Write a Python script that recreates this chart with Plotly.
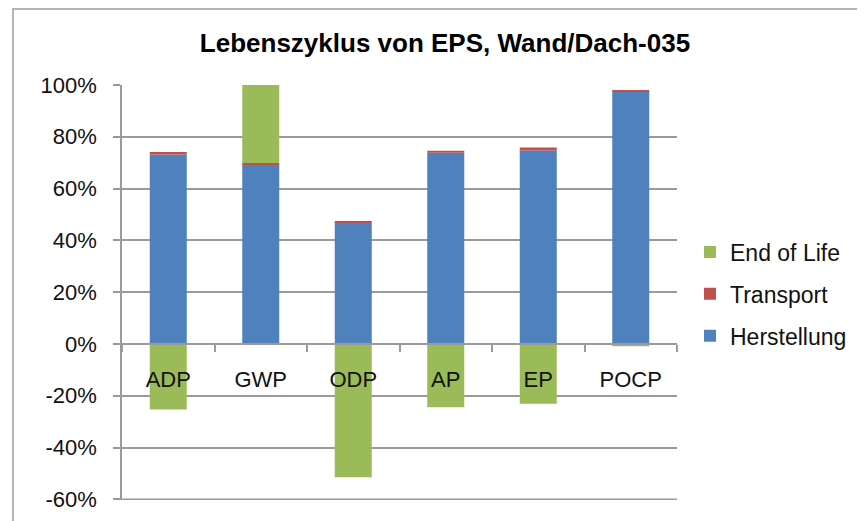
import plotly.graph_objects as go

categories = ["ADP", "GWP", "ODP", "AP", "EP", "POCP"]
herstellung = [73.2, 69.3, 46.9, 73.8, 74.7, 97.4]
transport = [0.9, 0.6, 0.6, 0.8, 1.2, 0.7]
end_of_life = [-25.3, 30.1, -51.5, -24.4, -23.1, -0.9]
y_tick_vals = [-60, -40, -20, 0, 20, 40, 60, 80, 100]
y_tick_text = ["-60%", "-40%", "-20%", "0%", "20%", "40%", "60%", "80%", "100%"]

FONT = "Liberation Sans, Arial, sans-serif"
GRID = "#9a9a9a"
TXT = "#111111"

fig = go.Figure()
fig.add_trace(go.Bar(x=categories, y=herstellung, name="Herstellung",
                     marker=dict(color="#4F81BD", line=dict(width=0)),
                     legendgroup="a", legendrank=3))
fig.add_trace(go.Bar(x=categories, y=transport, name="Transport",
                     marker=dict(color="#C0504D", line=dict(width=0)),
                     legendgroup="b", legendrank=2))
fig.add_trace(go.Bar(x=categories, y=end_of_life, name="End of Life",
                     marker=dict(color="#9BBB59", line=dict(width=0)),
                     legendgroup="c", legendrank=1))

# page body has an 8px margin: positions below are screen positions minus 8
OFF = 8
W, H = 865, 521
L, T = 122 - OFF, 85 - OFF
R = W - (677 - OFF)
B = H - (500 - OFF)
pw = W - L - R
ph = H - T - B

YMIN, YMAX = -60.25, 100


def px_x(x):  # screen x -> paper x
    return (x - OFF - L) / pw


def px_y(y):  # screen y -> paper y
    return (H - B - (y - OFF)) / ph


fig.update_layout(
    width=W, height=H,
    barmode="relative",
    bargap=0.6,
    plot_bgcolor="white",
    paper_bgcolor="white",
    margin=dict(l=L, r=R, t=T, b=B, autoexpand=False),
    font=dict(family=FONT, size=22, color=TXT),
    title=dict(text="<b>Lebenszyklus von EPS, Wand/Dach-035</b>",
               x=px_x(445), xref="paper", xanchor="center",
               y=1 - (43 - OFF) / H, yanchor="middle",
               font=dict(family=FONT, size=26, color="#000000")),
    legend=dict(traceorder="grouped", tracegroupgap=9,
                x=px_x(690), xanchor="left",
                y=px_y(294), yanchor="middle",
                font=dict(family=FONT, size=23, color=TXT),
                bgcolor="rgba(0,0,0,0)", itemwidth=30),
    xaxis=dict(anchor="free", position=(0 - YMIN) / (YMAX - YMIN),
               showline=True, linecolor=GRID, linewidth=1.5,
               ticks="outside", tickson="boundaries", ticklen=7,
               tickcolor=GRID, tickwidth=1.5,
               ticklabelstandoff=16,
               showgrid=False, tickfont=dict(size=22, color=TXT)),
    yaxis=dict(range=[YMIN, YMAX], tickvals=y_tick_vals, ticktext=y_tick_text,
               showline=True, linecolor=GRID, linewidth=1.5,
               ticks="outside", ticklen=7, tickcolor=GRID, tickwidth=1.5,
               ticklabelstandoff=12,
               showgrid=True, gridcolor=GRID, gridwidth=1.5,
               zeroline=False, tickfont=dict(size=22, color=TXT)),
    shapes=[
        dict(type="rect", xref="paper", yref="paper",
             x0=px_x(13), x1=px_x(W + 30),
             y0=px_y(H + 30), y1=px_y(OFF + 1),
             line=dict(color="#b4b4b4", width=2), layer="below"),
        # bottom gridline (plotly drops the one at the range edge)
        dict(type="line", xref="paper", yref="y",
             x0=0, x1=1, y0=y_tick_vals[0], y1=y_tick_vals[0],
             line=dict(color=GRID, width=1.5), layer="below"),
    ],
)

fig.write_html("out.html")
